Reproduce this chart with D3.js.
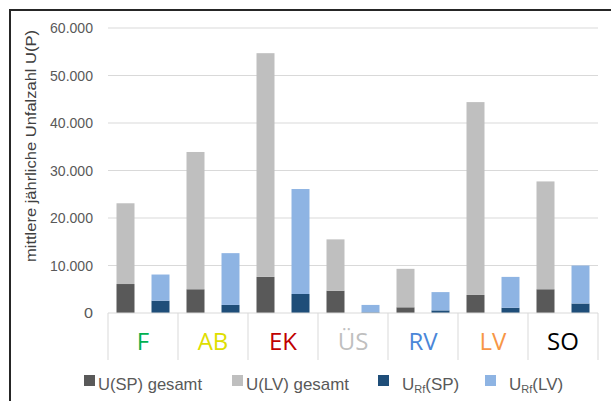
<!DOCTYPE html>
<html>
<head>
<meta charset="utf-8">
<script src="https://cdn.jsdelivr.net/npm/d3@7"></script>
<style>
  body { margin: 0; background: #fff; }
  svg { display: block; }
</style>
</head>
<body>
<div id="chart"></div>
<script>
// categories and their label colours
var categories = ["F", "AB", "EK", "ÜS", "RV", "LV", "SO"];
var catColors = ["#00b050", "#dede00", "#c00000", "#bfbfbf", "#4a86d8", "#f79646", "#000000"];

// stacked grey column: U(SP) at bottom, rest up to U(LV) total
var spTotal = [6100, 5000, 7600, 4700, 1200, 3800, 5000];
var lvTotal = [23100, 33900, 54700, 15500, 9300, 44400, 27700];
// stacked blue column
var rfSP = [2600, 1700, 4000, 150, 550, 1100, 2000];
var rfLV = [8100, 12600, 26100, 1700, 4400, 7600, 10000];

var yTicks = [0, 10000, 20000, 30000, 40000, 50000, 60000];

var svgWidth = 611, svgHeight = 401;
var margin = {top: 28, left: 108, right: 13, bottom: 88};
var width = svgWidth - margin.left - margin.right;   // 490
var height = svgHeight - margin.top - margin.bottom; // 285

var svg = d3.select("#chart").append("svg")
  .attr("width", svgWidth)
  .attr("height", svgHeight);

// outer frame (only top and left show in the crop)
svg.append("rect")
  .attr("x", 10).attr("y", 10)
  .attr("width", 700).attr("height", 500)
  .attr("fill", "none")
  .attr("stroke", "#262626")
  .attr("stroke-width", 2);

var g = svg.append("g")
  .attr("transform", `translate(${margin.left},${margin.top})`);

var y = d3.scaleLinear().domain([0, 60000]).range([height, 0]);
var x = d3.scaleBand().domain(categories).range([0, width]);
var xInner = d3.scaleBand().domain(["grey", "blue"])
  .range([0, x.bandwidth()])
  .paddingInner(0.486).paddingOuter(0.243);

var fmt = d3.format(",");
function tickFmt(v) { return fmt(v).replace(/,/g, "."); }

// gridlines
g.selectAll(".grid")
  .data(yTicks.filter(d => d > 0))
  .enter().append("line")
  .attr("x1", 0).attr("x2", width)
  .attr("y1", d => y(d)).attr("y2", d => y(d))
  .attr("stroke", "#d9d9d9").attr("stroke-width", 1);

// y tick labels
var yAxis = g.append("g").call(d3.axisLeft(y).tickValues(yTicks).tickFormat(tickFmt).tickSize(0).tickPadding(15));
yAxis.select(".domain").remove();
yAxis.selectAll("text")
  .attr("font-family", "Liberation Sans, Arial, sans-serif")
  .attr("font-size", 15)
  .attr("fill", "#595959")
  .attr("textLength", d => d === 0 ? 9 : 43)
  .attr("lengthAdjust", "spacingAndGlyphs");

// bars
var rows = categories.map(function(c, i) {
  return {cat: c, sp: spTotal[i], lv: lvTotal[i], rsp: rfSP[i], rlv: rfLV[i]};
});

var groups = g.selectAll(".cat").data(rows).enter().append("g")
  .attr("transform", d => `translate(${x(d.cat)},0)`);

function addBar(sel, xKey, lo, hi, color) {
  sel.append("rect")
    .attr("x", xInner(xKey))
    .attr("width", xInner.bandwidth())
    .attr("y", d => y(hi(d)))
    .attr("height", d => y(lo(d)) - y(hi(d)))
    .attr("fill", color);
}
addBar(groups, "grey", d => 0, d => d.sp, "#595959");
addBar(groups, "grey", d => d.sp, d => d.lv, "#bfbfbf");
addBar(groups, "blue", d => 0, d => d.rsp, "#1f4e79");
addBar(groups, "blue", d => d.rsp, d => d.rlv, "#8eb4e3");

// x axis line and category separators
g.append("line")
  .attr("x1", 0).attr("x2", width)
  .attr("y1", height).attr("y2", height)
  .attr("stroke", "#d9d9d9");
g.selectAll(".sep")
  .data(categories.concat(["end"]))
  .enter().append("line")
  .attr("x1", (d, i) => i * x.step()).attr("x2", (d, i) => i * x.step())
  .attr("y1", height).attr("y2", height + 47)
  .attr("stroke", "#d9d9d9");

// category labels
g.selectAll(".catlabel")
  .data(categories)
  .enter().append("text")
  .attr("x", d => x(d) + x.bandwidth() / 2)
  .attr("y", height + 37)
  .attr("text-anchor", "middle")
  .attr("font-family", "Open Sans, sans-serif")
  .attr("font-size", 24)
  .attr("fill", (d, i) => catColors[i])
  .text(d => d);

// y axis title
svg.append("text")
  .attr("transform", "translate(36,146) rotate(-90)")
  .attr("text-anchor", "middle")
  .attr("font-family", "Liberation Sans, Arial, sans-serif")
  .attr("font-size", 15)
  .attr("fill", "#404040")
  .attr("textLength", 232)
  .attr("lengthAdjust", "spacingAndGlyphs")
  .text("mittlere jährliche Unfalzahl  U(P)");

// legend
var legendItems = [
  {x: 84, color: "#595959", main: "U(SP) gesamt", sub: null, rest: null, len: 104},
  {x: 232, color: "#bfbfbf", main: "U(LV) gesamt", sub: null, rest: null, len: 103},
  {x: 378, color: "#1f4e79", main: "U", sub: "Rf", rest: "(SP)"},
  {x: 485, color: "#8eb4e3", main: "U", sub: "Rf", rest: "(LV)"}
];
var legend = svg.selectAll(".legend").data(legendItems).enter().append("g")
  .attr("transform", d => `translate(${d.x},0)`);
legend.append("rect")
  .attr("x", 0).attr("y", 375)
  .attr("width", 11).attr("height", 11)
  .attr("fill", d => d.color);
var lt = legend.append("text")
  .attr("x", d => d.sub ? 24 : 14)
  .attr("y", 390)
  .attr("font-family", "Liberation Sans, Arial, sans-serif")
  .attr("font-size", 17)
  .attr("fill", "#595959");
lt.filter(d => !d.sub)
  .attr("textLength", d => d.len)
  .attr("lengthAdjust", "spacingAndGlyphs");
lt.append("tspan").text(d => d.main);
lt.filter(d => d.sub).append("tspan")
  .attr("font-size", 11).attr("dy", 3).text(d => d.sub);
lt.filter(d => d.sub).append("tspan")
  .attr("dy", -3).text(d => d.rest);
</script>
</body>
</html>
